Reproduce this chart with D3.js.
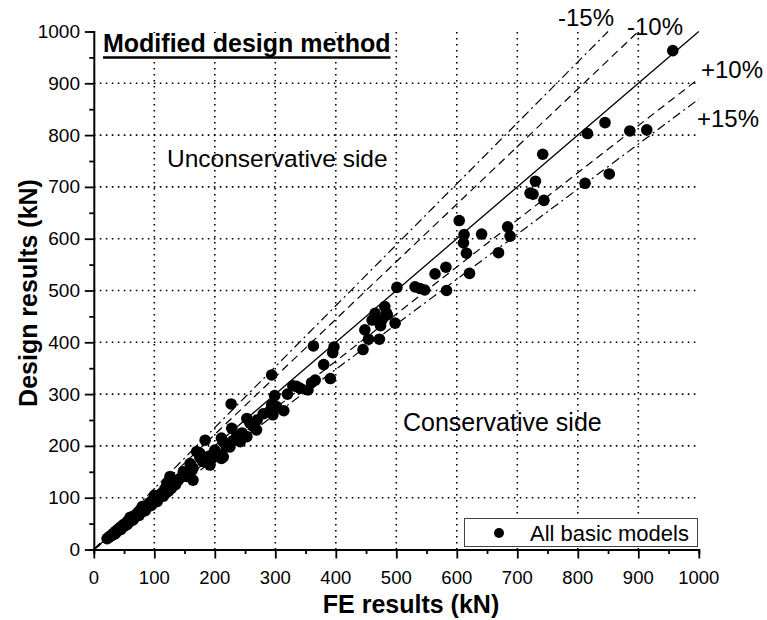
<!DOCTYPE html>
<html>
<head>
<meta charset="utf-8">
<script src="https://cdn.jsdelivr.net/npm/d3@7"></script>
<style>
  html, body { margin: 0; padding: 0; background: #fff; }
  svg { display: block; font-family: "Liberation Sans", Arial, sans-serif; }
</style>
</head>
<body>
<svg id="chart" width="767" height="620"></svg>
<script>
// ---------- data ----------
const feResults = [
  22,25,27,30,32,34,36,38,40,42,44,46,48,50,52,54,56,58,60,62,64,66,68,70,72,74,76,78,80,82,84,86,88,90,92,94,96,98,100,103,105,108,110,113,115,118,120,123,125,128,130,
  35,45,55,65,75,85,95,105,115,60,80,100,
  121,126,131,135,140,145,148,154,159,159,164,164,170,175,175,180,184,186,190,192,195,200,203,206,211,211,214,214,217,219,225,228,230,236,242,245,253,253,258,264,269,227,
  270,280,290,294,296,299,302,314,294,320,329,335,341,354,360,366,380,391,395,397,363,
  445,448,454,472,460,474,476,498,465,484,481,485,
  501,531,539,547,564,582,583,604,612,611,616,621,641,669,684,688,721,726,730,742,744,812,816,845,852,886,914,957
];
const designResults = [
  21,24,26,27,31,31,35,34,39,38,43,42,47,45,50,50,55,53,58,56,62,60,66,64,70,68,74,72,78,75,82,79,86,83,90,87,94,90,98,95,103,100,107,104,112,108,117,112,121,118,126,
  30,39,48,57,66,75,85,93,103,62,83,104,
  128,141,131,125,135,140,150,141,166,144,157,134,189,179,186,170,211,173,180,163,175,192,186,182,176,215,179,208,205,198,198,234,210,218,208,225,253,218,244,237,231,281,
  250,262,266,279,260,297,276,268,337,300,316,315,311,308,322,327,357,330,380,391,393,
  386,424,406,406,443,432,443,437,456,456,469,453,
  506,507,504,501,532,545,500,635,608,592,572,533,609,573,623,605,688,686,711,763,674,707,803,824,725,808,810,963
];
const xTicks = [0,100,200,300,400,500,600,700,800,900,1000];
const yTicks = [0,100,200,300,400,500,600,700,800,900,1000];
const gridValues = [100,200,300,400,500,600,700,800,900];
const boundRatios = [0.85, 0.9, 1.1, 1.15];
const boundLabels = ["-15%", "-10%", "+10%", "+15%"];

// ---------- layout ----------
const svg = d3.select("#chart");
const x = d3.scaleLinear().domain([0, 1000]).range([93.8, 698.8]);
const y = d3.scaleLinear().domain([0, 1000]).range([549.5, 31.5]);

// grid
const grid = svg.append("g").attr("stroke", "#000").attr("stroke-width", 1.6)
  .attr("stroke-dasharray", "1.6,4.4").attr("fill", "none");
grid.selectAll("line.v").data(gridValues).join("line")
  .attr("x1", d => x(d)).attr("x2", d => x(d))
  .attr("y1", y(0)).attr("y2", y(1000));
grid.selectAll("line.h").data(gridValues).join("line")
  .attr("y1", d => y(d)).attr("y2", d => y(d))
  .attr("x1", x(0)).attr("x2", x(1000));

// title white box (covers grid)
svg.append("rect").attr("x", 100).attr("y", 33).attr("width", 294).attr("height", 28).attr("fill", "#fff");

// reference lines
const line = d3.line().x(d => x(d[0])).y(d => y(d[1]));
svg.append("path").attr("d", line([[0,0],[1000,1000]]))
  .attr("stroke", "#000").attr("stroke-width", 1.3).attr("fill", "none");
const dashes = { 0.85: "9,4,2,4", 0.9: "8,5", 1.1: "8,5", 1.15: "9,4,2,4" };
boundRatios.forEach(r => {
  const end = r < 1 ? [1000 * r, 1000] : [1000, 1000 / r];
  svg.append("path").attr("d", line([[0,0], end]))
    .attr("stroke", "#000").attr("stroke-width", 1.2).attr("fill", "none")
    .attr("stroke-dasharray", dashes[r]);
});

// points
svg.append("g").selectAll("circle").data(feResults.map((v, i) => [v, designResults[i]])).join("circle")
  .attr("cx", d => x(d[0])).attr("cy", d => y(d[1])).attr("r", 5.8).attr("fill", "#000");

// axes
const xAxis = svg.append("g").attr("transform", `translate(0,${y(0)})`);
xAxis.call(d3.axisBottom(x).tickValues(d3.range(0, 1001, 50)).tickSize(4.5).tickFormat(""));
xAxis.call(g => g.selectAll(".tick line").filter(d => d % 100 === 0).attr("y2", 9));
xAxis.selectAll(".domain").attr("stroke-width", 2);
xAxis.selectAll(".tick line").attr("stroke-width", 1.8);
svg.append("g").selectAll("text").data(xTicks).join("text")
  .attr("x", d => x(d)).attr("y", 584).attr("text-anchor", "middle")
  .attr("font-size", 18.5).text(d => d);

const yAxis = svg.append("g").attr("transform", `translate(${x(0)},0)`);
yAxis.call(d3.axisLeft(y).tickValues(d3.range(0, 1001, 50)).tickSize(4.5).tickFormat(""));
yAxis.call(g => g.selectAll(".tick line").filter(d => d % 100 === 0).attr("x2", -9));
yAxis.selectAll(".domain").attr("stroke-width", 2);
yAxis.selectAll(".tick line").attr("stroke-width", 1.8);
svg.append("g").selectAll("text").data(yTicks).join("text")
  .attr("x", 80).attr("y", d => y(d) + 6.5).attr("text-anchor", "end")
  .attr("font-size", 19).text(d => d);

// axis titles
svg.append("text").attr("x", 411).attr("y", 613).attr("text-anchor", "middle")
  .attr("font-size", 25).attr("font-weight", "bold").text("FE results (kN)");
svg.append("text").attr("transform", "translate(37,293) rotate(-90)").attr("text-anchor", "middle")
  .attr("font-size", 25).attr("font-weight", "bold").text("Design results (kN)");

// title
const t = svg.append("text").attr("x", 103).attr("y", 52).attr("font-size", 25)
  .attr("font-weight", "bold").text("Modified design method");
const tw = t.node().getComputedTextLength();
svg.append("line").attr("x1", 103).attr("x2", 103 + tw).attr("y1", 57.5).attr("y2", 57.5)
  .attr("stroke", "#000").attr("stroke-width", 2.5);

// annotations
svg.append("text").attr("x", 167).attr("y", 167).attr("font-size", 24.5).text("Unconservative side");
svg.append("text").attr("x", 403).attr("y", 431).attr("font-size", 25).text("Conservative side");
const labelPos = [[558, 26], [627, 35], [701, 78], [697, 127]];
boundLabels.forEach((l, i) => {
  svg.append("text").attr("x", labelPos[i][0]).attr("y", labelPos[i][1]).attr("font-size", 24).text(l);
});

// legend
svg.append("rect").attr("x", 464.5).attr("y", 518.5).attr("width", 233).attr("height", 28)
  .attr("fill", "#fff").attr("stroke", "#444").attr("stroke-width", 1);
svg.append("circle").attr("cx", 499).attr("cy", 533).attr("r", 5).attr("fill", "#000");
svg.append("text").attr("x", 530).attr("y", 541).attr("font-size", 22).text("All basic models");
</script>
</body>
</html>
